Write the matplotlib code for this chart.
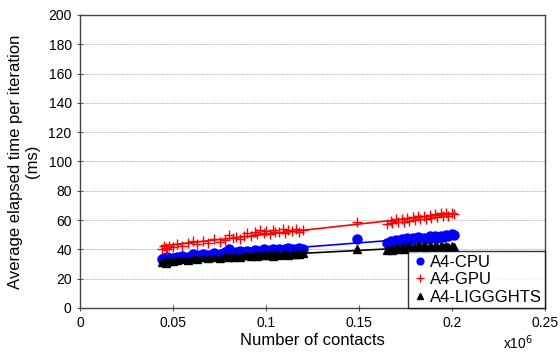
import matplotlib
matplotlib.use("Agg")
import matplotlib.pyplot as plt
import numpy as np

plt.rcParams['font.family'] = ['Liberation Sans', 'DejaVu Sans']

# Number of contacts (x10^6)
contacts = [0.044, 0.045, 0.046, 0.047, 0.048, 0.050, 0.052, 0.055, 0.058, 0.061,
            0.063, 0.066, 0.069, 0.072, 0.075, 0.078, 0.080, 0.082, 0.084, 0.086,
            0.088, 0.090, 0.092, 0.094, 0.095, 0.097, 0.099, 0.100, 0.102, 0.104,
            0.105, 0.107, 0.109, 0.110, 0.112, 0.114, 0.116, 0.118, 0.120, 0.149,
            0.165, 0.167, 0.168, 0.170, 0.171, 0.173, 0.174, 0.176, 0.177, 0.179,
            0.180, 0.182, 0.183, 0.185, 0.186, 0.188, 0.189, 0.191, 0.192, 0.194,
            0.195, 0.197, 0.198, 0.200, 0.201]

# elapsed time per iteration (ms)
cpu = [33.5, 34.0, 33.2, 34.5, 33.8, 34.2, 35.0, 35.5, 34.8, 36.5,
       35.8, 37.0, 36.2, 37.5, 36.8, 38.0, 40.0, 37.5, 38.2, 38.8,
       38.0, 39.0, 38.5, 39.5, 38.8, 39.2, 40.0, 39.0, 39.8, 40.2,
       39.5, 40.5, 39.8, 40.2, 40.8, 40.0, 40.5, 41.0, 40.5, 47.0,
       44.5, 46.0, 45.0, 46.5, 45.5, 47.0, 46.0, 47.5, 46.5, 48.0,
       47.0, 48.5, 47.5, 48.0, 47.2, 48.8, 47.8, 49.0, 48.0, 49.2,
       48.5, 49.5, 48.8, 50.5, 49.5]
gpu = [40.0, 42.0, 41.0, 40.5, 42.5, 41.5, 43.5, 42.5, 44.0, 45.5,
       43.5, 46.0, 44.5, 47.0, 45.0, 46.5, 50.0, 47.5, 48.5, 47.0,
       49.0, 51.0, 49.0, 52.0, 50.5, 53.0, 51.0, 52.5, 50.5, 53.5,
       51.5, 52.0, 54.0, 51.0, 53.0, 52.5, 54.0, 51.5, 53.5, 59.0,
       57.0, 59.5, 58.0, 60.5, 58.5, 61.0, 59.0, 61.5, 59.5, 62.0,
       60.0, 62.5, 60.5, 63.0, 61.0, 63.5, 61.5, 64.0, 62.0, 64.5,
       62.5, 65.0, 63.0, 64.5, 64.0]
liggghts = [31.5, 32.0, 31.0, 32.5, 31.8, 32.2, 33.0, 33.5, 32.8, 34.0,
            33.5, 34.5, 33.8, 35.0, 34.2, 35.5, 35.0, 34.8, 35.5, 35.0,
            35.8, 36.0, 35.2, 36.2, 35.5, 36.5, 35.8, 36.0, 36.5, 35.5,
            36.8, 36.0, 36.5, 37.0, 36.2, 36.8, 37.0, 36.5, 37.2, 40.0,
            39.5, 40.5, 39.8, 41.0, 40.2, 41.5, 40.5, 41.0, 42.5, 41.2,
            40.8, 42.0, 41.5, 43.0, 41.0, 42.2, 41.5, 42.5, 41.8, 42.0,
            41.5, 42.5, 41.8, 42.2, 41.5]

x = np.array(contacts)
fig = plt.figure(figsize=(5.6, 3.56), dpi=100)
ax = fig.add_axes([0.143, 0.135, 0.830, 0.823])

for i in range(0, 201, 20):
    ax.axhline(i, color='#a0a0a0', linewidth=0.6, linestyle=(0, (1, 1)), zorder=0)

series = [
    (cpu, 'A4-CPU', dict(marker='o', color='#0000ff', markersize=6.5, linestyle='none')),
    (gpu, 'A4-GPU', dict(marker='+', color='#ff0000', markersize=7, markeredgewidth=1, linestyle='none')),
    (liggghts, 'A4-LIGGGHTS', dict(marker='^', color='black', markersize=6, linestyle='none')),
]
xl = np.array([min(contacts), max(contacts)])
for ys, lab, st in series:
    ax.plot(x, ys, label=lab, zorder=3, **st)
    k, b = np.polyfit(x, ys, 1)
    ax.plot(xl, k * xl + b, color=st['color'], linewidth=1.2, zorder=4)

ax.set_xlim(0, 0.25)
ax.set_ylim(0, 200)
ax.set_xticks([0, 0.05, 0.1, 0.15, 0.2, 0.25])
ax.set_xticklabels(['0', '0.05', '0.1', '0.15', '0.2', '0.25'])
ax.set_yticks(range(0, 201, 20))
ax.tick_params(labelsize=10, direction='inout', length=5, color='#555555', labelcolor='black')
for s in ax.spines.values():
    s.set_color('#444444')
    s.set_linewidth(1.0)

ax.set_xlabel('Number of contacts', fontsize=12, labelpad=2)
ax.set_ylabel('Average elapsed time per iteration\n(ms)', fontsize=12, labelpad=6)
fig.text(0.898, 0.037, r'x10$^6$', fontsize=10, va='center')

leg = ax.legend(loc='lower right', bbox_to_anchor=(1.0, 0.0), borderaxespad=0,
                fontsize=12, frameon=True, fancybox=False, handletextpad=0.1,
                handlelength=1.0, borderpad=0.2, labelspacing=0.15, markerscale=0.75)
leg.get_frame().set_edgecolor('black')
leg.get_frame().set_linewidth(1.0)

fig.savefig('out.png', dpi=100)
